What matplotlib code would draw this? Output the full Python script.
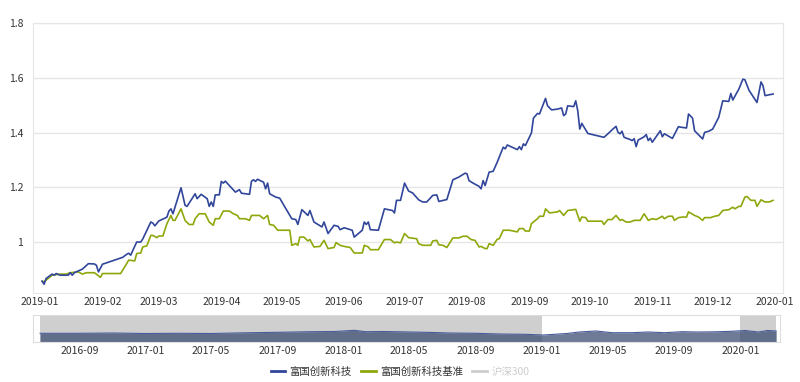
import pandas as pd
import matplotlib
matplotlib.use("Agg")
import matplotlib.pyplot as plt
import matplotlib.dates as mdates
from matplotlib.lines import Line2D

plt.rcParams['font.family'] = ['Noto Sans CJK SC', 'DejaVu Sans']

# 富国创新科技 (normalised NAV), 2019
fund_dates = ['2019-01-02', '2019-01-03', '2019-01-04', '2019-01-07', '2019-01-08', '2019-01-09', '2019-01-11',
              '2019-01-15', '2019-01-16', '2019-01-17', '2019-01-18', '2019-01-22', '2019-01-25', '2019-01-28',
              '2019-01-29', '2019-01-30', '2019-02-01', '2019-02-11', '2019-02-13', '2019-02-14', '2019-02-15',
              '2019-02-18', '2019-02-20', '2019-02-21', '2019-02-25', '2019-02-26', '2019-02-27', '2019-03-01',
              '2019-03-04', '2019-03-05', '2019-03-06', '2019-03-07', '2019-03-08', '2019-03-12', '2019-03-14',
              '2019-03-15', '2019-03-19', '2019-03-20', '2019-03-22', '2019-03-25', '2019-03-26', '2019-03-27',
              '2019-03-28', '2019-03-29', '2019-03-31', '2019-04-01', '2019-04-02', '2019-04-03', '2019-04-08',
              '2019-04-10', '2019-04-11', '2019-04-15', '2019-04-16', '2019-04-17', '2019-04-18', '2019-04-19',
              '2019-04-22', '2019-04-23', '2019-04-24', '2019-04-25', '2019-04-28', '2019-04-30', '2019-05-06',
              '2019-05-08', '2019-05-09', '2019-05-11', '2019-05-14', '2019-05-15', '2019-05-17', '2019-05-21',
              '2019-05-22', '2019-05-24', '2019-05-27', '2019-05-29', '2019-05-30', '2019-06-01', '2019-06-05',
              '2019-06-06', '2019-06-10', '2019-06-11', '2019-06-12', '2019-06-13', '2019-06-14', '2019-06-18',
              '2019-06-21', '2019-06-25', '2019-06-26', '2019-06-27', '2019-06-29', '2019-07-01', '2019-07-03',
              '2019-07-05', '2019-07-08', '2019-07-10', '2019-07-12', '2019-07-15', '2019-07-17', '2019-07-18',
              '2019-07-22', '2019-07-25', '2019-07-28', '2019-07-31', '2019-08-01', '2019-08-02', '2019-08-04',
              '2019-08-07', '2019-08-08', '2019-08-09', '2019-08-10', '2019-08-12', '2019-08-14', '2019-08-16',
              '2019-08-19', '2019-08-20', '2019-08-21', '2019-08-26', '2019-08-27', '2019-08-28', '2019-08-29',
              '2019-08-30', '2019-09-02', '2019-09-03', '2019-09-05', '2019-09-06', '2019-09-09', '2019-09-10',
              '2019-09-12', '2019-09-15', '2019-09-17', '2019-09-18', '2019-09-19', '2019-09-20', '2019-09-23',
              '2019-09-24', '2019-09-25', '2019-09-26', '2019-09-27', '2019-09-30', '2019-10-08', '2019-10-10',
              '2019-10-12', '2019-10-14', '2019-10-15', '2019-10-16', '2019-10-17', '2019-10-18', '2019-10-21',
              '2019-10-22', '2019-10-23', '2019-10-24', '2019-10-25', '2019-10-28', '2019-10-29', '2019-10-30',
              '2019-10-31', '2019-11-01', '2019-11-05', '2019-11-06', '2019-11-07', '2019-11-11', '2019-11-14',
              '2019-11-15', '2019-11-18', '2019-11-19', '2019-11-21', '2019-11-22', '2019-11-26', '2019-11-27',
              '2019-11-29', '2019-12-01', '2019-12-04', '2019-12-06', '2019-12-09', '2019-12-10', '2019-12-11',
              '2019-12-14', '2019-12-16', '2019-12-17', '2019-12-19', '2019-12-23', '2019-12-25', '2019-12-26',
              '2019-12-27', '2019-12-31']
fund_vals = [0.858, 0.847, 0.868, 0.884, 0.880, 0.886, 0.880,
             0.880, 0.889, 0.880, 0.889, 0.902, 0.922, 0.921,
             0.916, 0.892, 0.920, 0.945, 0.956, 0.960, 0.953,
             1.001, 1.001, 1.012, 1.074, 1.070, 1.060, 1.078,
             1.088, 1.092, 1.114, 1.122, 1.104, 1.199, 1.135,
             1.131, 1.177, 1.159, 1.175, 1.159, 1.131, 1.147,
             1.131, 1.173, 1.173, 1.222, 1.216, 1.223, 1.183,
             1.192, 1.179, 1.175, 1.223, 1.228, 1.222, 1.230,
             1.219, 1.195, 1.216, 1.177, 1.165, 1.161, 1.086,
             1.083, 1.065, 1.119, 1.098, 1.116, 1.074, 1.056,
             1.074, 1.032, 1.062, 1.058, 1.046, 1.053, 1.044,
             1.019, 1.044, 1.074, 1.065, 1.074, 1.046, 1.044,
             1.122, 1.116, 1.107, 1.153, 1.153, 1.216, 1.187,
             1.180, 1.155, 1.147, 1.147, 1.171, 1.173, 1.149,
             1.156, 1.228, 1.238, 1.252, 1.250, 1.225, 1.216,
             1.204, 1.195, 1.225, 1.207, 1.256, 1.259, 1.292,
             1.347, 1.341, 1.355, 1.338, 1.349, 1.338, 1.359,
             1.353, 1.399, 1.453, 1.470, 1.468, 1.525, 1.498,
             1.483, 1.486, 1.490, 1.462, 1.468, 1.498, 1.495,
             1.516, 1.480, 1.413, 1.434, 1.397, 1.383, 1.396,
             1.410, 1.423, 1.401, 1.396, 1.405, 1.383, 1.375,
             1.371, 1.378, 1.349, 1.373, 1.385, 1.393, 1.371,
             1.380, 1.365, 1.407, 1.385, 1.396, 1.379, 1.422,
             1.420, 1.417, 1.468, 1.453, 1.407, 1.377, 1.401,
             1.405, 1.413, 1.456, 1.516, 1.514, 1.543, 1.519,
             1.559, 1.595, 1.593, 1.555, 1.510, 1.585, 1.571,
             1.535, 1.541]

# 富国创新科技基准
bench_dates = ['2019-01-02', '2019-01-03', '2019-01-04', '2019-01-07', '2019-01-11', '2019-01-14', '2019-01-16',
               '2019-01-20', '2019-01-22', '2019-01-24', '2019-01-28', '2019-01-31', '2019-02-01', '2019-02-10',
               '2019-02-13', '2019-02-14', '2019-02-17', '2019-02-18', '2019-02-20', '2019-02-21', '2019-02-23',
               '2019-02-25', '2019-02-26', '2019-02-28', '2019-03-01', '2019-03-03', '2019-03-05', '2019-03-07',
               '2019-03-08', '2019-03-09', '2019-03-12', '2019-03-14', '2019-03-16', '2019-03-18', '2019-03-19',
               '2019-03-21', '2019-03-24', '2019-03-26', '2019-03-28', '2019-03-29', '2019-03-31', '2019-04-02',
               '2019-04-05', '2019-04-07', '2019-04-09', '2019-04-10', '2019-04-13', '2019-04-15', '2019-04-16',
               '2019-04-20', '2019-04-22', '2019-04-24', '2019-04-25', '2019-04-27', '2019-04-29', '2019-05-05',
               '2019-05-06', '2019-05-08', '2019-05-09', '2019-05-10', '2019-05-12', '2019-05-14', '2019-05-15',
               '2019-05-17', '2019-05-20', '2019-05-22', '2019-05-24', '2019-05-27', '2019-05-28', '2019-05-30',
               '2019-06-01', '2019-06-04', '2019-06-06', '2019-06-10', '2019-06-11', '2019-06-13', '2019-06-14',
               '2019-06-18', '2019-06-21', '2019-06-24', '2019-06-26', '2019-06-27', '2019-06-29', '2019-07-01',
               '2019-07-03', '2019-07-07', '2019-07-08', '2019-07-10', '2019-07-14', '2019-07-15', '2019-07-17',
               '2019-07-18', '2019-07-20', '2019-07-22', '2019-07-25', '2019-07-28', '2019-07-30', '2019-08-01',
               '2019-08-03', '2019-08-05', '2019-08-07', '2019-08-08', '2019-08-10', '2019-08-11', '2019-08-12',
               '2019-08-14', '2019-08-16', '2019-08-17', '2019-08-19', '2019-08-22', '2019-08-26', '2019-08-27',
               '2019-08-29', '2019-08-30', '2019-09-01', '2019-09-02', '2019-09-05', '2019-09-06', '2019-09-08',
               '2019-09-09', '2019-09-11', '2019-09-15', '2019-09-16', '2019-09-18', '2019-09-20', '2019-09-24',
               '2019-09-25', '2019-09-26', '2019-09-27', '2019-09-29', '2019-09-30', '2019-10-07', '2019-10-08',
               '2019-10-10', '2019-10-12', '2019-10-14', '2019-10-16', '2019-10-17', '2019-10-19', '2019-10-21',
               '2019-10-23', '2019-10-24', '2019-10-26', '2019-10-28', '2019-10-30', '2019-11-01', '2019-11-03',
               '2019-11-06', '2019-11-07', '2019-11-09', '2019-11-11', '2019-11-12', '2019-11-14', '2019-11-16',
               '2019-11-18', '2019-11-19', '2019-11-22', '2019-11-24', '2019-11-26', '2019-11-27', '2019-11-30',
               '2019-12-02', '2019-12-04', '2019-12-06', '2019-12-09', '2019-12-11', '2019-12-12', '2019-12-14',
               '2019-12-15', '2019-12-17', '2019-12-18', '2019-12-20', '2019-12-22', '2019-12-23', '2019-12-25',
               '2019-12-27', '2019-12-29', '2019-12-31']
bench_vals = [0.858, 0.856, 0.862, 0.880, 0.884, 0.884, 0.889,
              0.892, 0.884, 0.889, 0.889, 0.872, 0.886, 0.886,
              0.922, 0.935, 0.932, 0.959, 0.961, 0.983, 0.987,
              1.025, 1.025, 1.017, 1.023, 1.023, 1.068, 1.098,
              1.080, 1.080, 1.122, 1.080, 1.065, 1.065, 1.086,
              1.104, 1.104, 1.074, 1.062, 1.086, 1.086, 1.114,
              1.114, 1.104, 1.098, 1.086, 1.086, 1.080, 1.098,
              1.098, 1.086, 1.098, 1.065, 1.062, 1.044, 1.044,
              0.989, 0.995, 0.989, 1.019, 1.019, 1.005, 1.010,
              0.983, 0.985, 1.007, 0.977, 0.981, 0.999, 0.989,
              0.985, 0.981, 0.961, 0.961, 0.989, 0.983, 0.973,
              0.973, 1.010, 1.010, 0.998, 1.001, 0.998, 1.032,
              1.017, 1.013, 0.995, 0.989, 0.989, 1.005, 1.007,
              0.991, 0.989, 0.981, 1.016, 1.016, 1.022, 1.022,
              1.010, 1.007, 0.983, 0.985, 0.977, 0.977, 0.995,
              0.989, 1.011, 1.013, 1.044, 1.044, 1.038, 1.050,
              1.050, 1.041, 1.041, 1.068, 1.086, 1.095, 1.095,
              1.122, 1.107, 1.111, 1.116, 1.098, 1.116, 1.120,
              1.098, 1.077, 1.092, 1.090, 1.077, 1.077, 1.065,
              1.083, 1.083, 1.098, 1.080, 1.083, 1.074, 1.074,
              1.080, 1.080, 1.080, 1.104, 1.080, 1.086, 1.083,
              1.095, 1.086, 1.095, 1.095, 1.080, 1.090, 1.092,
              1.092, 1.111, 1.098, 1.092, 1.080, 1.090, 1.090,
              1.095, 1.098, 1.116, 1.119, 1.128, 1.122, 1.131,
              1.131, 1.165, 1.167, 1.153, 1.153, 1.131, 1.155,
              1.147, 1.147, 1.153]

# 沪深300, long history shown in the zoom slider
hs300_dates = ['2016-06-20', '2016-09-01', '2016-11-01', '2017-01-01', '2017-03-01', '2017-05-01', '2017-07-01',
               '2017-09-01', '2017-11-01', '2017-12-15', '2018-01-20', '2018-02-10', '2018-03-15', '2018-05-01',
               '2018-06-15', '2018-07-15', '2018-09-01', '2018-10-15', '2018-12-01', '2019-01-03', '2019-02-15',
               '2019-03-10', '2019-04-10', '2019-05-10', '2019-06-15', '2019-07-15', '2019-08-15', '2019-09-15',
               '2019-10-15', '2019-11-15', '2019-12-15', '2020-01-10', '2020-02-03', '2020-02-20', '2020-03-07']
hs300_vals = [3510, 3510, 3600, 3450, 3510, 3450, 3660,
              3810, 3990, 4050, 4410, 3990, 4050, 3900,
              3750, 3600, 3510, 3300, 3210, 3000, 3450,
              3900, 4200, 3690, 3690, 3900, 3690, 3990,
              3900, 3960, 4110, 4350, 3900, 4350, 4200]

series_names = ['富国创新科技', '富国创新科技基准', '沪深300']
y_ticks = [1, 1.2, 1.4, 1.6, 1.8]
y_labels = ['1', '1.2', '1.4', '1.6', '1.8']
main_ticks = pd.date_range('2019-01-01', '2020-01-01', freq='MS')
slider_ticks = pd.date_range('2016-09-01', '2020-01-01', freq='4MS')
window = (pd.Timestamp('2019-01-01'), pd.Timestamp('2020-01-01'))

blue = '#31469a'
green = '#8ea80c'
light = '#e6e6e6'
W, H = 800, 382

fig = plt.figure(figsize=(W / 100, H / 100), dpi=100)

# main chart
ax = fig.add_axes([33 / W, 1 - 293 / H, 750 / W, 270 / H])
ax.plot(pd.to_datetime(bench_dates), bench_vals, color=green, lw=1.2)
ax.plot(pd.to_datetime(fund_dates), fund_vals, color=blue, lw=1.2)
ax.set_xlim(pd.Timestamp('2018-12-28 12:00'), pd.Timestamp('2020-01-04 22:00'))
ax.set_ylim(0.815, 1.8)
ax.set_yticks(y_ticks)
ax.set_yticklabels(y_labels)
ax.set_xticks(main_ticks)
ax.xaxis.set_major_formatter(mdates.DateFormatter('%Y-%m'))
ax.grid(axis='y', color=light, lw=1)
ax.set_axisbelow(True)
for s in ax.spines.values():
    s.set_color(light)
ax.tick_params(length=0, labelsize=7.5, colors='#333333')
ax.tick_params(axis='y', pad=7)
ax.tick_params(axis='x', pad=3)

# zoom slider
sx = fig.add_axes([33 / W, 1 - 342 / H, 747 / W, 27 / H])
hd = pd.to_datetime(hs300_dates)
sx.axvspan(hd[0], window[0], color='#cfcfcf', lw=0, zorder=0)
sx.axvspan(window[1], hd[-1], color='#cfcfcf', lw=0, zorder=0)
sx.fill_between(hd, hs300_vals, 900, color='#3d4e73', alpha=0.75, lw=0, zorder=1)
sx.plot(hd, hs300_vals, color='#4a5c9a', lw=0.8, zorder=2)
sx.set_xlim(pd.Timestamp('2016-06-07'), pd.Timestamp('2020-03-14'))
sx.set_ylim(900, 9000)
sx.set_yticks([])
sx.set_xticks(slider_ticks)
sx.xaxis.set_major_formatter(mdates.DateFormatter('%Y-%m'))
for s in sx.spines.values():
    s.set_color('#dddddd')
sx.tick_params(length=0, labelsize=7.5, colors='#333333', pad=3)

# legend
handles = [Line2D([], [], color=blue, lw=2),
           Line2D([], [], color=green, lw=2),
           Line2D([], [], color='#cccccc', lw=2)]
leg = fig.legend(handles, series_names, loc='center', bbox_to_anchor=(0.5, 1 - 372 / H),
                 ncol=3, frameon=False, fontsize=7.5, handlelength=1.4, handletextpad=0.4,
                 columnspacing=0.9)
for t, c in zip(leg.get_texts(), ['#333333', '#333333', '#cccccc']):
    t.set_color(c)

fig.savefig('out.png', dpi=100)
